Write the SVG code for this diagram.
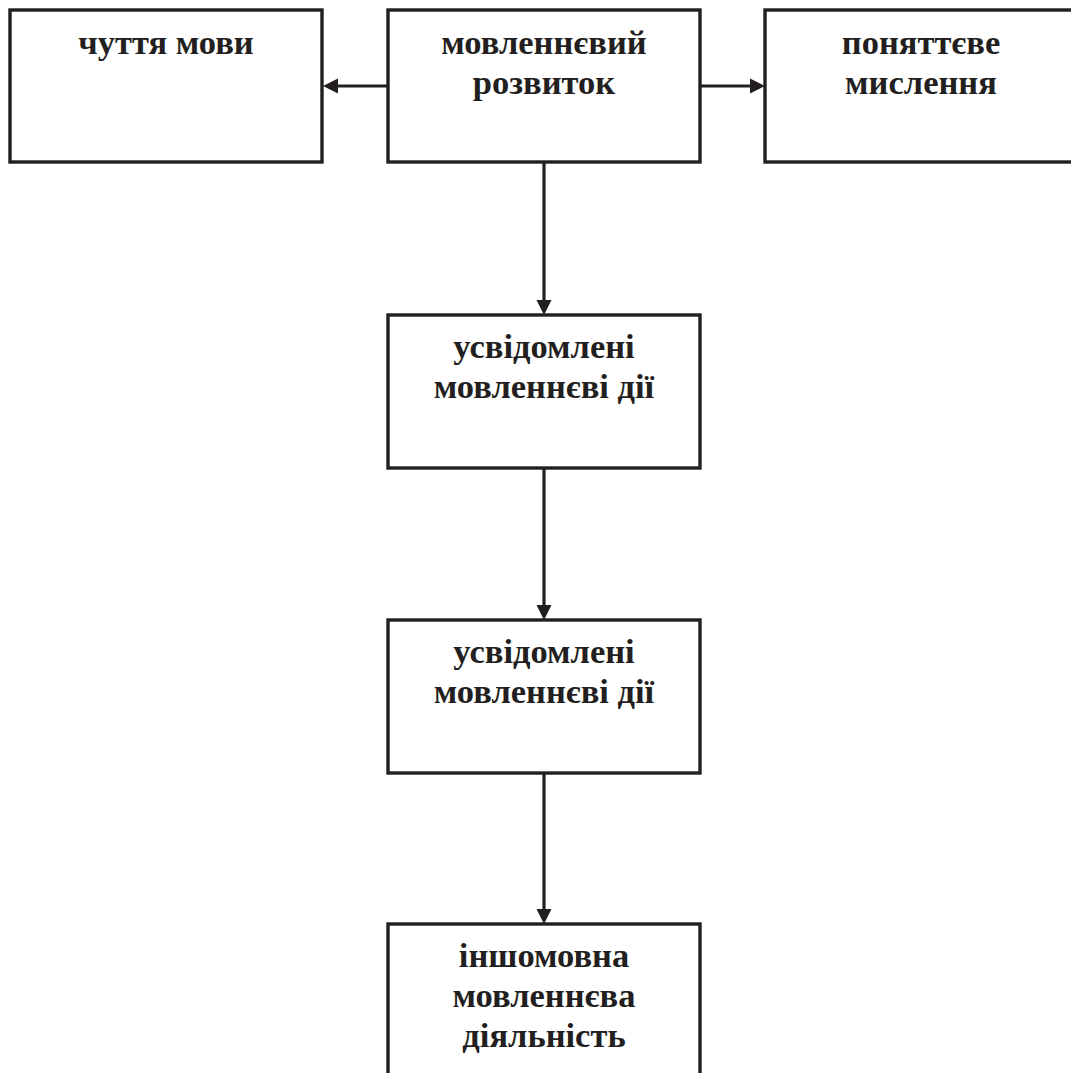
<svg xmlns="http://www.w3.org/2000/svg" width="1071" height="1073" viewBox="0 0 1071 1073">
<style>
.box{fill:#fff;stroke:#231f20;stroke-width:3.4}
.lbl{font-family:"Liberation Serif","Times New Roman",serif;font-weight:bold;font-size:34.5px;fill:#231f20;text-anchor:middle}
.con{stroke:#231f20;stroke-width:3.2;fill:none}
.head{fill:#231f20}
</style>
<rect width="1071" height="1073" fill="#fff"/>
<g id="connectors">
<line class="con" x1="388" y1="86" x2="335" y2="86"/>
<polygon class="head" points="323,86 338,78.5 338,93.5"/>
<line class="con" x1="700" y1="86" x2="753" y2="86"/>
<polygon class="head" points="765,86 750,78.5 750,93.5"/>
<line class="con" x1="544" y1="162" x2="544" y2="303"/>
<polygon class="head" points="544,315 536.5,300 551.5,300"/>
<line class="con" x1="544" y1="468" x2="544" y2="608"/>
<polygon class="head" points="544,620 536.5,605 551.5,605"/>
<line class="con" x1="544" y1="773" x2="544" y2="912"/>
<polygon class="head" points="544,924 536.5,909 551.5,909"/>
</g>
<g id="n1"><rect class="box" x="10" y="10" width="312" height="152"/><text class="lbl" x="166" y="54">чуття мови</text></g>
<g id="n2"><rect class="box" x="388" y="10" width="312" height="152"/><text class="lbl" x="544" y="54">мовленнєвий</text><text class="lbl" x="544" y="94">розвиток</text></g>
<g id="n3"><rect class="box" x="765" y="10" width="312" height="152"/><text class="lbl" x="921" y="54">поняттєве</text><text class="lbl" x="921" y="94">мислення</text></g>
<g id="n4"><rect class="box" x="388" y="315" width="312" height="153"/><text class="lbl" x="544" y="358">усвідомлені</text><text class="lbl" x="544" y="398">мовленнєві дії</text></g>
<g id="n5"><rect class="box" x="388" y="620" width="312" height="153"/><text class="lbl" x="544" y="663">усвідомлені</text><text class="lbl" x="544" y="703">мовленнєві дії</text></g>
<g id="n6"><rect class="box" x="388" y="924" width="312" height="160"/><text class="lbl" x="544" y="967">іншомовна</text><text class="lbl" x="544" y="1007">мовленнєва</text><text class="lbl" x="544" y="1047">діяльність</text></g>
</svg>
